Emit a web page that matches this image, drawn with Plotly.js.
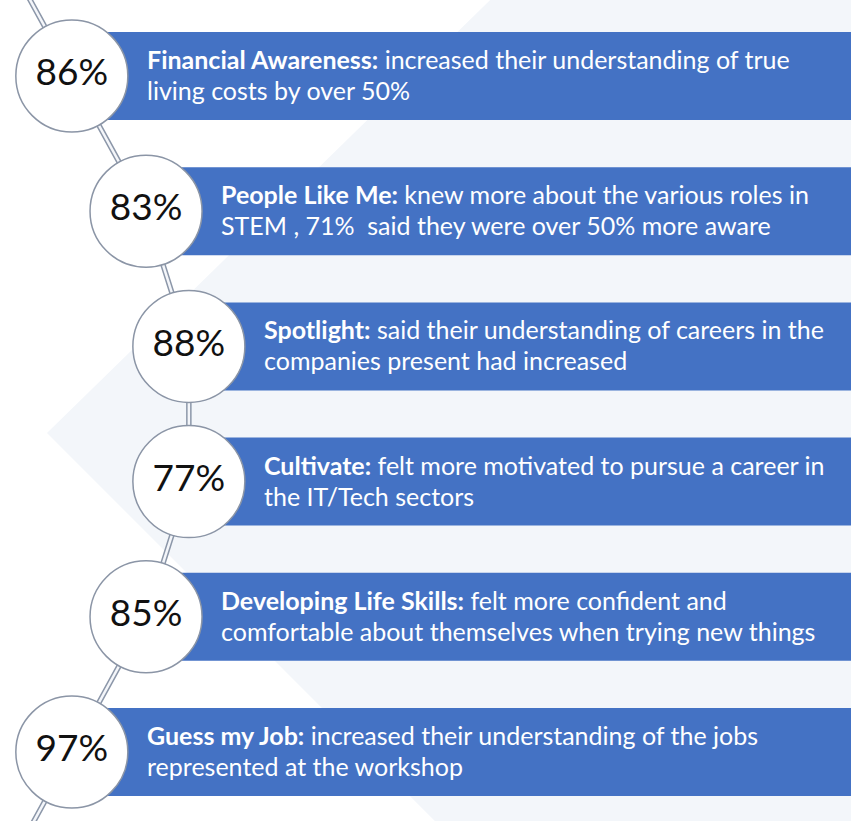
<!DOCTYPE html>
<html>
<head>
<meta charset="utf-8">
<script src="https://cdn.plot.ly/plotly-3.0.1.min.js"></script>
<style>html,body{margin:0;padding:0;background:#fff;}#chart{width:851px;height:821px;}</style>
</head>
<body>
<div id="chart"></div>
<script>
// ---- data ----
const percents = [86, 83, 88, 77, 85, 97];
const headings = ["Financial Awareness:", "People Like Me:", "Spotlight:", "Cultivate:", "Developing Life Skills:", "Guess my Job:"];
const firstLines = [
  "increased their understanding of true",
  "knew more about the various roles in",
  "said their understanding of careers in the",
  "felt more motivated to pursue a career in",
  "felt more confident and",
  "increased their understanding of the jobs"
];
const secondLines = [
  "living costs by over 50%",
  "STEM , 71%  said they were over 50% more aware",
  "companies present had increased",
  "the IT/Tech sectors",
  "comfortable about themselves when trying new things",
  "represented at the workshop"
];

// ---- layout helpers ----
const W = 851, H = 821;
const n = percents.length;
const idx = percents.map((_, i) => i);
// circles follow a gentle arc
const cx = idx.map(i => 29 + 165.5 * Math.sin(Math.PI * (i + 0.5) / n));
const barBlue = "#4472C4";
const font = "Lato, 'Open Sans', sans-serif";

// connector (straight segments through circle centres, extended past both ends)
const ext = 0.6;
const lx = [cx[0] - (cx[1] - cx[0]) * ext, ...cx, cx[n - 1] - (cx[n - 2] - cx[n - 1]) * ext];
const ly = [-ext, ...idx, n - 1 + ext];

const traces = [
  {
    type: "bar", orientation: "h",
    y: idx, base: cx, x: cx.map(v => W + 10 - v),
    width: 0.651,
    marker: { color: barBlue, line: { width: 0 } },
    hoverinfo: "skip", showlegend: false
  },
  {
    type: "scatter", mode: "lines", x: lx, y: ly,
    line: { color: "#8c97a9", width: 5.5 }, hoverinfo: "skip", showlegend: false
  },
  {
    type: "scatter", mode: "lines", x: lx, y: ly,
    line: { color: "#f4f6fa", width: 2.5 }, hoverinfo: "skip", showlegend: false
  },
  {
    type: "scatter", mode: "markers+text", x: cx, y: idx,
    text: percents.map(p => p + "%"),
    textposition: "middle center",
    textfont: { family: font, size: 37, color: "#111" },
    marker: { size: 112, color: "#ffffff", line: { color: "#8b95a6", width: 1.5 } },
    hoverinfo: "skip", showlegend: false, cliponaxis: false
  }
];

const annotations = [];
idx.forEach(i => {
  annotations.push({
    x: cx[i] + 73, y: i, xref: "x", yref: "y", xanchor: "left", yanchor: "middle",
    yshift: 17, showarrow: false, align: "left",
    text: "<b>" + headings[i] + "</b> " + firstLines[i],
    font: { family: font, size: 25, color: "#ffffff" }
  });
  annotations.push({
    x: cx[i] + 73, y: i, xref: "x", yref: "y", xanchor: "left", yanchor: "middle",
    yshift: -14, showarrow: false, align: "left",
    text: secondLines[i],
    font: { family: font, size: 25, color: "#ffffff" }
  });
});

const layout = {
  width: W, height: H,
  margin: { l: 0, r: 0, t: 0, b: 0, pad: 0 },
  paper_bgcolor: "#ffffff", plot_bgcolor: "rgba(0,0,0,0)",
  xaxis: { range: [0, W], visible: false, fixedrange: true },
  yaxis: { range: [n - 1 + (H - 752) / 135.2, -76 / 135.2], visible: false, fixedrange: true },
  shapes: [
    {
      type: "path", xref: "paper", yref: "paper", layer: "below",
      path: "M 0.576 1 L 0.0552 0.4726 L 0.511 0 L 1 0 L 1 1 Z",
      fillcolor: "#f3f6fa", line: { width: 0 }
    }
  ],
  annotations: annotations,
  showlegend: false
};

Plotly.newPlot("chart", traces, layout, { displayModeBar: false, staticPlot: true });
</script>
</body>
</html>
